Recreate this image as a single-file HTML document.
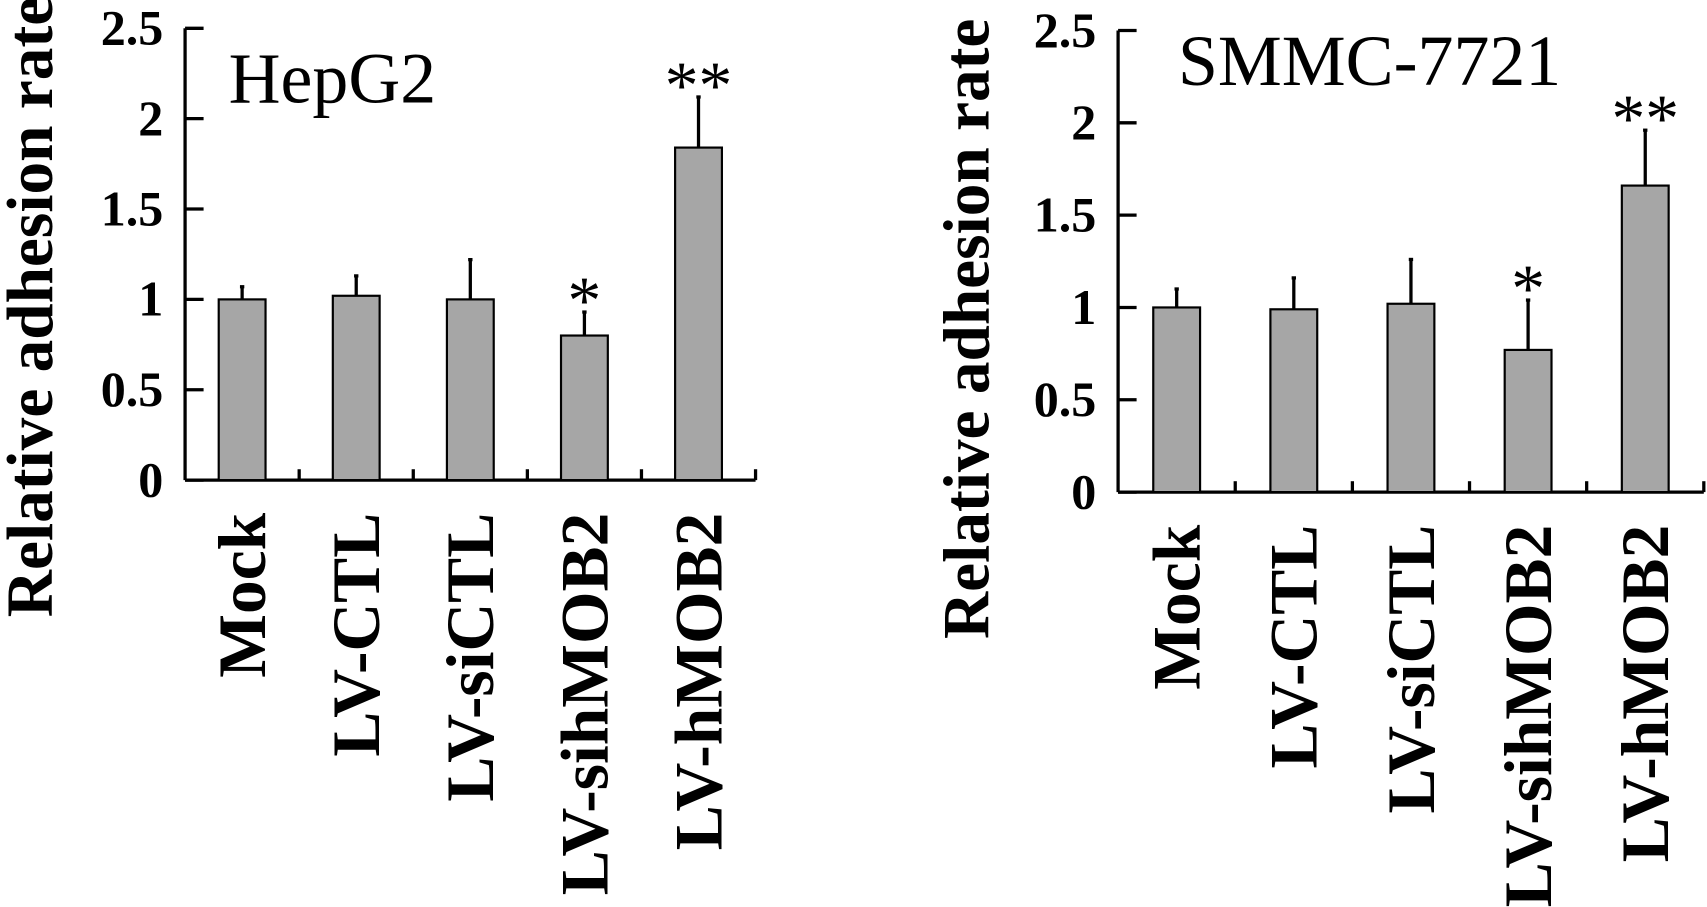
<!DOCTYPE html>
<html><head><meta charset="utf-8"><style>
html,body{margin:0;padding:0;background:#fff;}
svg{display:block;font-family:"Liberation Serif",serif;}
</style></head><body>
<svg width="1707" height="907" viewBox="0 0 1707 907"><g id="chart" transform="scale(1.0887)"></g></svg>
<script>
const categories = ["Mock","LV-CTL","LV-siCTL","LV-sihMOB2","LV-hMOB2"];
const hepValues = [1.0, 1.02, 1.0, 0.8, 1.84];
const hepErrors = [0.07, 0.11, 0.22, 0.13, 0.28];
const hepSig = ["", "", "", "*", "**"];
const smmcValues = [1.0, 0.99, 1.02, 0.77, 1.66];
const smmcErrors = [0.1, 0.17, 0.24, 0.27, 0.3];
const smmcSig = ["", "", "", "*", "**"];
const yTicks = [0, 0.5, 1, 1.5, 2, 2.5];
const yTickLabels = ["0","0.5","1","1.5","2","2.5"];

const NS = "http://www.w3.org/2000/svg";
const svg = document.getElementById("chart");
function mk(tag, attrs, parent){const e=document.createElementNS(NS,tag);for(const k in attrs)e.setAttribute(k,attrs[k]);(parent||svg).appendChild(e);return e;}

function panel(cfg){
  const g = mk("g",{});
  
  
  const y = v => cfg.y0 - v/2.5*(cfg.y0-cfg.yTop);
  const band = (cfg.x1-cfg.x0)/categories.length;
  const xc = i => cfg.x0 + band*(i+0.5);
  const ya = mk("line",{x1:cfg.x0,y1:y(2.5),x2:cfg.x0,y2:cfg.y0,stroke:"#000","stroke-width":3},g);
  
  
  yTicks.forEach((t,i)=>{
    mk("line",{x1:cfg.x0,y1:y(t),x2:cfg.x0+17,y2:y(t),stroke:"#000","stroke-width":3},g);
    const tl = mk("text",{x:cfg.x0-20,y:y(t)+15,"text-anchor":"end","font-size":46,"font-weight":"bold"},g);
    tl.textContent = yTickLabels[i];
    
    
  });
  const xa = mk("line",{x1:cfg.x0,y1:cfg.y0,x2:cfg.x1,y2:cfg.y0,stroke:"#000","stroke-width":3},g);
  
  
  for(let i=1;i<=categories.length;i++){
    mk("line",{x1:cfg.x0+band*i,y1:cfg.y0,x2:cfg.x0+band*i,y2:cfg.y0-10,stroke:"#000","stroke-width":3},g);
  }
  const bw = 43;
  categories.forEach((c,i)=>{
    const v = cfg.values[i], e = cfg.errors[i];
    const eb = mk("line",{x1:xc(i),y1:y(v),x2:xc(i),y2:y(v+e),stroke:"#000","stroke-width":3},g);
    
    
    mk("line",{x1:xc(i)-2,y1:y(v+e),x2:xc(i)+2,y2:y(v+e),stroke:"#000","stroke-width":3},g);
    const r = mk("rect",{x:xc(i)-bw/2,y:y(v),width:bw,height:cfg.y0-y(v),fill:"#a6a6a6",stroke:"#000","stroke-width":2},g);
    
    
    if(cfg.sig[i]){
      const s = mk("text",{x:xc(i),y:y(v+e)+10,"text-anchor":"middle","font-size":62},g);
      s.textContent = cfg.sig[i];
      
      
    }
    const lx = xc(i)+21, ly = cfg.y0+30;
    const l = mk("text",{x:lx,y:ly,"text-anchor":"end","font-size":62,"font-weight":"bold",transform:`rotate(-90 ${lx} ${ly})`},g);
    l.textContent = c;
    
    
  });
  const t = mk("text",{x:cfg.titleX,y:cfg.titleY,"font-size":66},g);
  t.textContent = cfg.title;
  
  
  const yt = mk("text",{x:cfg.ytX,y:cfg.ytY,"text-anchor":"middle","font-size":60,"font-weight":"bold",transform:`rotate(-90 ${cfg.ytX} ${cfg.ytY})`},g);
  yt.textContent = "Relative adhesion rate";
  
  
}

panel({name:"hepg2-chart",x0:170,x1:694,y0:441,yTop:26,values:hepValues,errors:hepErrors,sig:hepSig,title:"HepG2",titleX:210,titleY:94,ytX:48,ytY:282});
panel({name:"smmc7721-chart",x0:1027,x1:1565,y0:452,yTop:28,values:smmcValues,errors:smmcErrors,sig:smmcSig,title:"SMMC-7721",titleX:1082,titleY:78,ytX:908,ytY:302});
</script>
</body></html>
